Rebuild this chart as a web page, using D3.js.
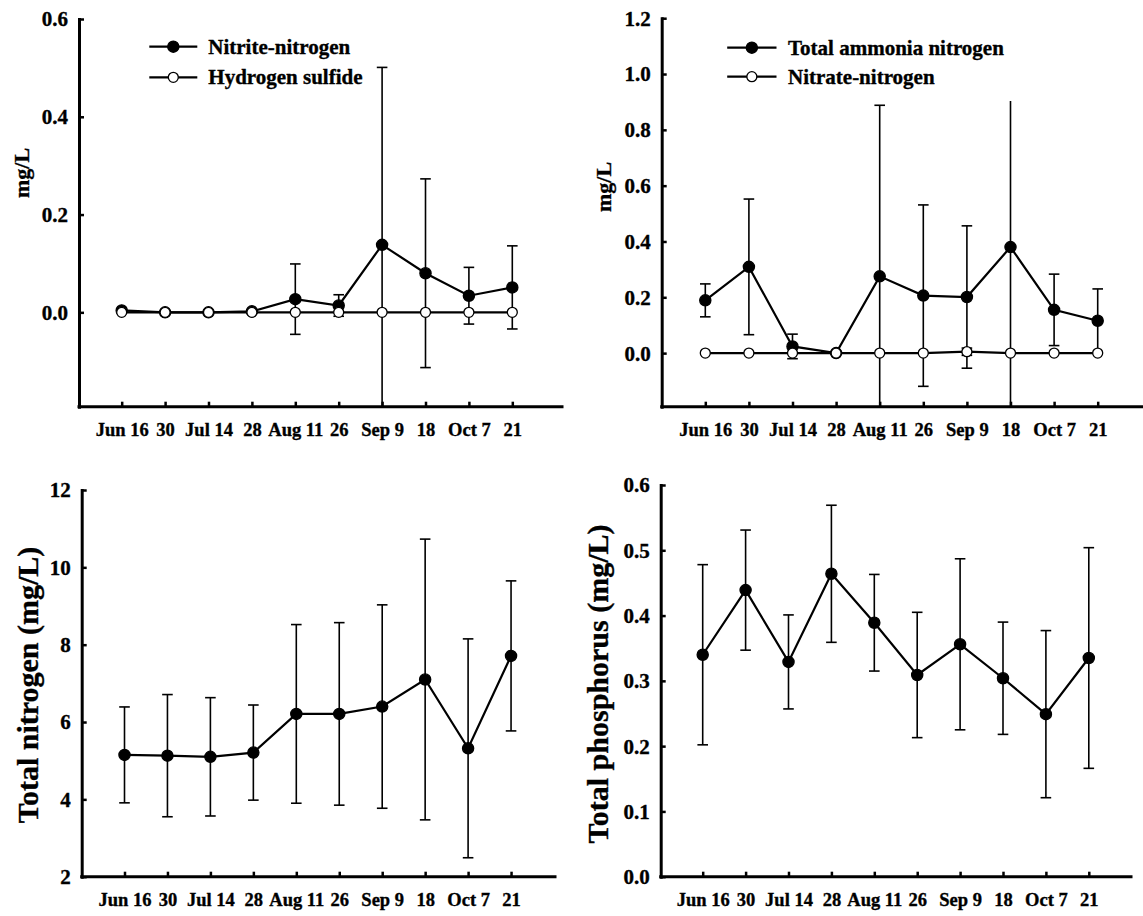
<!DOCTYPE html>
<html>
<head>
<meta charset="utf-8">
<script src="https://cdn.jsdelivr.net/npm/d3@7"></script>
<style>
  body { margin: 0; background: #fff; }
  svg text { font-family: "Liberation Serif", "Times New Roman", serif; font-weight: bold; fill: #000; stroke: #000; stroke-width: 0.35px; }
</style>
</head>
<body>
<svg id="chart" width="1143" height="916"></svg>
<script>
// Sampling dates (shared x categories)
const dates = ["Jun 16", "30", "Jul 14", "28", "Aug 11", "26", "Sep 9", "18", "Oct 7", "21"];

// Nitrite-nitrogen and hydrogen sulfide (mg/L), mean and SD
const nitrite     = [0.004, 0.000, 0.000, 0.002, 0.027, 0.014, 0.138, 0.080, 0.034, 0.051];
const nitriteSd   = [0, 0, 0, 0, 0.072, 0.022, 0.363, 0.193, 0.058, 0.085];
const sulfide     = [0, 0, 0, 0, 0, 0, 0, 0, 0, 0];
const sulfideSd   = [0, 0, 0, 0, 0, 0, 0, 0, 0, 0];

// Total ammonia nitrogen and nitrate-nitrogen (mg/L)
const ammonia     = [0.189, 0.309, 0.024, 0.000, 0.275, 0.206, 0.201, 0.380, 0.155, 0.116];
const ammoniaSd   = [0.059, 0.243, 0.044, 0, 0.613, 0.325, 0.255, 0.620, 0.128, 0.114];
const nitrate     = [0, 0, 0, 0, 0, 0, 0.005, 0, 0, 0];
const nitrateSd   = [0, 0, 0, 0, 0, 0, 0.013, 0, 0, 0];

// Total nitrogen (mg/L)
const totalN      = [5.15, 5.13, 5.10, 5.21, 6.21, 6.21, 6.40, 7.10, 5.32, 7.71];
const totalNSd    = [1.24, 1.58, 1.53, 1.23, 2.31, 2.36, 2.63, 3.63, 2.83, 1.94];

// Total phosphorus (mg/L)
const totalP      = [0.340, 0.439, 0.329, 0.464, 0.389, 0.309, 0.356, 0.304, 0.249, 0.335];
const totalPSd    = [0.138, 0.092, 0.072, 0.105, 0.074, 0.096, 0.131, 0.086, 0.128, 0.169];

// Y tick values
const ticksNitrite  = [0, 0.2, 0.4, 0.6];
const ticksAmmonia  = [0, 0.2, 0.4, 0.6, 0.8, 1.0, 1.2];
const ticksTotalN   = [2, 4, 6, 8, 10, 12];
const ticksTotalP   = [0, 0.1, 0.2, 0.3, 0.4, 0.5, 0.6];

const svg = d3.select("#chart");

const panels = [
  {
    left: 79, top: 19, bottom: 406.7, end: 562, first: 121.7, step: 43.4,
    domain: [-0.193, 0.6], ticks: ticksNitrite, fmt: d3.format(".1f"),
    title: "mg/L", titleX: 29, titleY: 173, titleSize: 22,
    series: [
      { values: nitrite, sd: nitriteSd, filled: true, name: "Nitrite-nitrogen" },
      { values: sulfide, sd: sulfideSd, filled: false, name: "Hydrogen sulfide" }
    ],
    legend: { x1: 149.3, x2: 197.3, tx: 208.3, rows: [46.7, 77.3] }
  },
  {
    left: 661.7, top: 18.2, bottom: 406.7, end: 1145, first: 705.3, step: 43.6,
    domain: [-0.192, 1.2], ticks: ticksAmmonia, fmt: d3.format(".1f"), clipTop: 0.903,
    title: "mg/L", titleX: 611, titleY: 187, titleSize: 22,
    series: [
      { values: ammonia, sd: ammoniaSd, filled: true, name: "Total ammonia nitrogen" },
      { values: nitrate, sd: nitrateSd, filled: false, name: "Nitrate-nitrogen" }
    ],
    legend: { x1: 727.2, x2: 776.5, tx: 788, rows: [47.7, 76.7] }
  },
  {
    left: 81.7, top: 490, bottom: 876.7, end: 555, first: 124.5, step: 42.95,
    domain: [2, 12], ticks: ticksTotalN, fmt: d3.format("d"),
    title: "Total nitrogen (mg/L)", titleX: 38, titleY: 685, titleSize: 30,
    series: [ { values: totalN, sd: totalNSd, filled: true } ]
  },
  {
    left: 660.7, top: 485, bottom: 876.7, end: 1131, first: 702.7, step: 42.9,
    domain: [0, 0.6], ticks: ticksTotalP, fmt: d3.format(".1f"),
    title: "Total phosphorus (mg/L)", titleX: 608, titleY: 684, titleSize: 30,
    series: [ { values: totalP, sd: totalPSd, filled: true } ]
  }
];

const idx = d3.range(dates.length);

panels.forEach(p => {
  const g = svg.append("g");
  const x = d3.scaleLinear().domain([0, dates.length - 1])
    .range([p.first, p.first + p.step * (dates.length - 1)]);
  const y = d3.scaleLinear().domain(p.domain).range([p.bottom, p.top]);

  // Y axis with inward ticks
  const yAxis = g.append("g").attr("transform", `translate(${p.left},0)`)
    .call(d3.axisLeft(y).tickValues(p.ticks).tickFormat(p.fmt)
      .tickSizeInner(-5).tickSizeOuter(0).tickPadding(11));
  yAxis.select(".domain").attr("stroke-width", 3).attr("stroke-linecap", "square");
  yAxis.selectAll(".tick line").attr("stroke-width", 2.5);
  yAxis.selectAll(".tick text").attr("font-size", 21).attr("dy", "0.33em");

  // X axis with inward ticks; the baseline spans past the last category
  const xAxis = g.append("g").attr("transform", `translate(0,${p.bottom})`)
    .call(d3.axisBottom(x).tickValues(idx).tickFormat(i => dates[i])
      .tickSizeInner(-5).tickSizeOuter(0).tickPadding(16.5));
  xAxis.select(".domain").remove();
  xAxis.selectAll(".tick line").attr("stroke-width", 2.5);
  xAxis.selectAll(".tick text").attr("font-size", 18.5);
  g.append("line")
    .attr("x1", p.left).attr("x2", p.end)
    .attr("y1", p.bottom).attr("y2", p.bottom)
    .attr("stroke", "#000").attr("stroke-width", 3).attr("stroke-linecap", "square");
  svg.selectAll(".tick text").attr("font-family", null);

  // Axis title
  g.append("text")
    .attr("transform", `translate(${p.titleX},${p.titleY}) rotate(-90)`)
    .attr("text-anchor", "middle")
    .attr("font-size", p.titleSize)
    .text(p.title);

  const lo = p.domain[0];
  const hi = p.clipTop !== undefined ? p.clipTop : p.domain[1];
  const capHalf = 5.3;

  p.series.forEach(s => {
    // Error bars (mean ± SD), cut at the plotting area
    idx.forEach(i => {
      if (!s.sd[i]) return;
      const a = s.values[i] - s.sd[i], b = s.values[i] + s.sd[i];
      const aa = Math.max(a, lo), bb = Math.min(b, hi);
      const cx = x(i);
      g.append("line").attr("x1", cx).attr("x2", cx)
        .attr("y1", y(aa)).attr("y2", y(bb))
        .attr("stroke", "#000").attr("stroke-width", 1.6);
      if (a >= lo) g.append("line").attr("x1", cx - capHalf).attr("x2", cx + capHalf)
        .attr("y1", y(a)).attr("y2", y(a)).attr("stroke", "#000").attr("stroke-width", 1.6);
      if (b <= hi) g.append("line").attr("x1", cx - capHalf).attr("x2", cx + capHalf)
        .attr("y1", y(b)).attr("y2", y(b)).attr("stroke", "#000").attr("stroke-width", 1.6);
    });

    // Connecting line
    g.append("path")
      .datum(idx)
      .attr("d", d3.line().x(i => x(i)).y(i => y(s.values[i])))
      .attr("fill", "none").attr("stroke", "#000").attr("stroke-width", 2.2);

    // Markers
    g.selectAll(null).data(idx).join("circle")
      .attr("cx", i => x(i)).attr("cy", i => y(s.values[i]))
      .attr("r", s.filled ? 5.6 : 5)
      .attr("fill", s.filled ? "#000" : "#fff")
      .attr("stroke", "#000").attr("stroke-width", 1.3);
  });

  // Legend
  if (p.legend) {
    p.series.forEach((s, k) => {
      const ry = p.legend.rows[k];
      const lg = g.append("g");
      lg.append("line").attr("x1", p.legend.x1).attr("x2", p.legend.x2)
        .attr("y1", ry).attr("y2", ry).attr("stroke", "#000").attr("stroke-width", 2.2);
      lg.append("circle").attr("cx", (p.legend.x1 + p.legend.x2) / 2).attr("cy", ry)
        .attr("r", s.filled ? 5.6 : 5)
        .attr("fill", s.filled ? "#000" : "#fff")
        .attr("stroke", "#000").attr("stroke-width", 1.3);
      lg.append("text").attr("x", p.legend.tx).attr("y", ry).attr("dy", "0.33em")
        .attr("font-size", 21).text(s.name);
    });
  }
});
</script>
</body>
</html>
